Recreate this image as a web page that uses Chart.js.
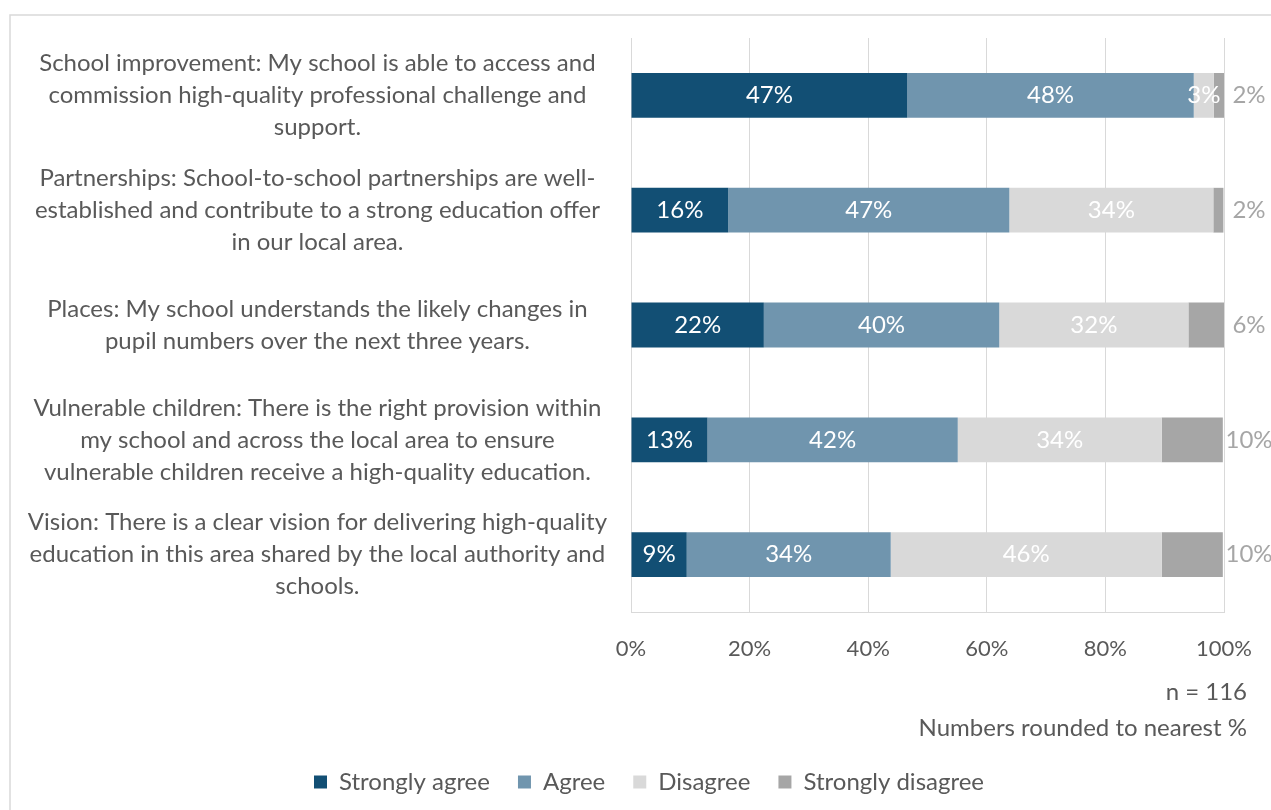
<!DOCTYPE html>
<html>
<head>
<meta charset="utf-8">
<script src="https://cdn.jsdelivr.net/npm/chart.js@4.4.1/dist/chart.umd.min.js"></script>
<style>
  html, body { margin: 0; padding: 0; background: #fff; overflow: hidden; }
  #wrap { position: relative; width: 1271px; height: 810px; }
</style>
</head>
<body>
<div id="wrap"><canvas id="main-chart"></canvas></div>
<script>
// Survey statements (multi-line, as wrapped in the original)
const categories = [
  ['School improvement: My school is able to access and', 'commission high-quality professional challenge and', 'support.'],
  ['Partnerships: School-to-school partnerships are well-', 'established and contribute to a strong education offer', 'in our local area.'],
  ['Places: My school understands the likely changes in', 'pupil numbers over the next three years.'],
  ['Vulnerable children: There is the right provision within', 'my school and across the local area to ensure', 'vulnerable children receive a high-quality education.'],
  ['Vision: There is a clear vision for delivering high-quality', 'education in this area shared by the local authority and', 'schools.'],
];

// % of respondents (n = 116)
const stronglyAgree    = [46.6, 16.4, 22.4, 12.9, 9.4];
const agree            = [48.3, 47.4, 39.7, 42.2, 34.4];
const disagree         = [3.4, 34.4, 31.9, 34.4, 45.7];
const stronglyDisagree = [1.7, 1.7, 6.0, 10.3, 10.3];

const seriesNames = ['Strongly agree', 'Agree', 'Disagree', 'Strongly disagree'];
const xTicks = [0, 20, 40, 60, 80, 100];
const footnotes = ['n = 116', 'Numbers rounded to nearest %'];

const FONT = 'Lato, "Open Sans", sans-serif';
const txt = '#595959';
const colors = ['#124f74', '#7095ae', '#d9d9d9', '#a6a6a6'];

// value labels: centred white inside, last series in grey right of the bar
const valueLabels = {
  id: 'valueLabels',
  afterDatasetsDraw(chart) {
    const ctx = chart.ctx;
    const area = chart.chartArea;
    ctx.save();
    ctx.font = `24px ${FONT}`;
    ctx.textBaseline = 'middle';
    ctx.textAlign = 'center';
    chart.data.datasets.forEach((ds, i) => {
      const meta = chart.getDatasetMeta(i);
      meta.data.forEach((bar, j) => {
        const label = Math.round(ds.data[j]) + '%';
        if (i === 3) {
          ctx.fillStyle = '#a6a6a6';
          ctx.fillText(label, area.right + 25, bar.y);
        } else {
          ctx.fillStyle = '#fff';
          ctx.fillText(label, (bar.base + bar.x) / 2, bar.y);
        }
      });
    });
    ctx.restore();
  }
};

// frame, footnotes, and nudge the legend so it sits under the plot like the original
const extras = {
  id: 'extras',
  afterLayout(chart) {
    chart.legend.left = 74;
  },
  beforeDraw(chart) {
    const ctx = chart.ctx;
    ctx.save();
    ctx.strokeStyle = '#d9d9d9';
    ctx.lineWidth = 1.5;
    ctx.strokeRect(10, 15, 1400, 1000);
    ctx.restore();
  },
  afterDraw(chart) {
    const ctx = chart.ctx;
    ctx.save();
    ctx.font = `24px ${FONT}`;
    ctx.fillStyle = txt;
    ctx.textAlign = 'right';
    ctx.textBaseline = 'middle';
    footnotes.forEach((t, i) => ctx.fillText(t, 1247, 692 + i * 36));
    ctx.restore();
  }
};

const chart = new Chart(document.getElementById('main-chart'), {
  type: 'bar',
  data: {
    labels: categories,
    datasets: [stronglyAgree, agree, disagree, stronglyDisagree].map((d, i) => ({
      label: seriesNames[i],
      data: d,
      backgroundColor: colors[i],
      borderWidth: 0,
      categoryPercentage: 1,
      barPercentage: 0.39,
    }))
  },
  options: {
    indexAxis: 'y',
    responsive: true, maintainAspectRatio: false,
    animation: false,
    layout: { padding: { top: 38, right: 47, bottom: 6, left: 0 } },
    plugins: {
      legend: {
        position: 'bottom',
        labels: {
          color: txt,
          font: { family: FONT, size: 24 },
          boxWidth: 13, boxHeight: 13,
          padding: 28,
        }
      },
      tooltip: { enabled: false },
    },
    scales: {
      x: {
        stacked: true,
        min: 0, max: 100,
        afterBuildTicks: s => { s.ticks = xTicks.map(v => ({ value: v })); },
        afterFit: s => { s.height = 130; s.paddingLeft = 0; s.paddingRight = 0; },
        grid: { color: '#d9d9d9', drawTicks: false, lineWidth: 1 },
        border: { color: '#d9d9d9' },
        ticks: { color: txt, padding: 24, font: { family: FONT, size: 22 }, callback: v => v + '%' }
      },
      y: {
        stacked: true,
        afterFit: s => { s.width = 631; s.paddingTop = 0; s.paddingBottom = 0; },
        grid: { display: false, drawTicks: false },
        border: { display: false },
        ticks: {
          color: txt, padding: 24, crossAlign: 'center',
          font: { family: FONT, size: 24, lineHeight: 32 / 24 }
        }
      }
    }
  },
  plugins: [valueLabels, extras]
});
</script>
</body>
</html>
